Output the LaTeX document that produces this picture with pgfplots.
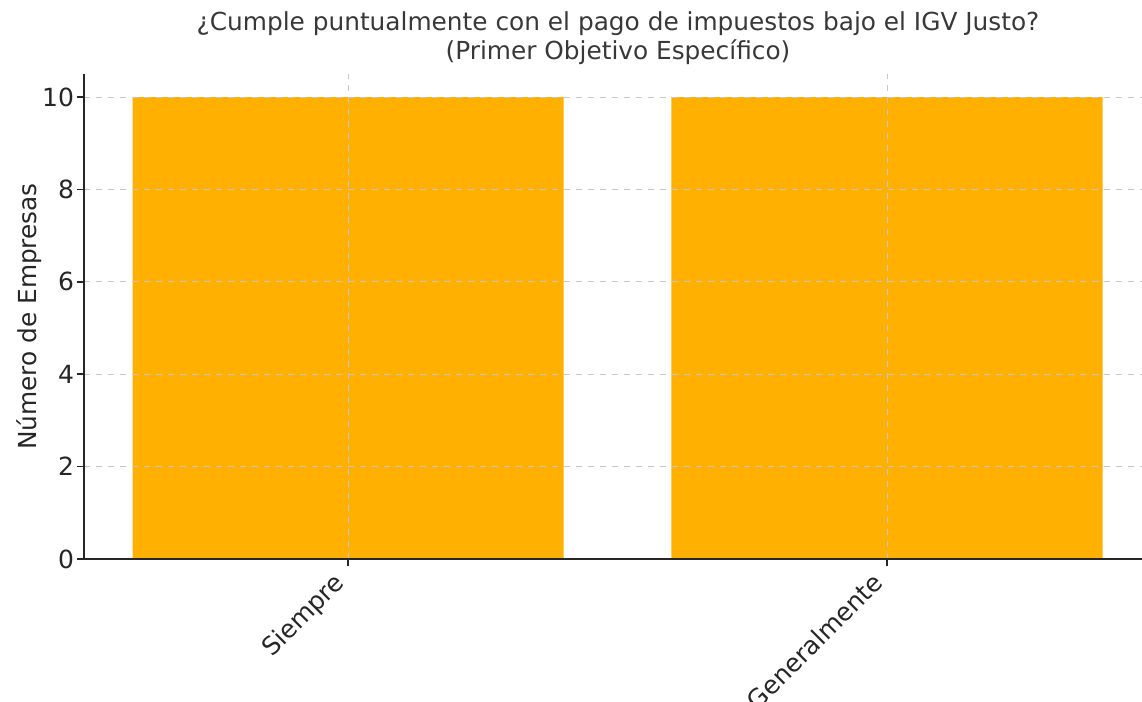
\documentclass[border=0pt]{standalone}
\usepackage{pgfplots}
\pgfplotsset{compat=1.18}
\usepackage{fontspec}
\setmainfont{DejaVu Sans}
\definecolor{barOrange}{HTML}{FFB000}
\definecolor{txt}{HTML}{262626}
\begin{document}
\begin{tikzpicture}
\begin{axis}[
  scale only axis,
  width=529pt, height=242.5pt,
  xmin=-0.49, xmax=1.473,
  ymin=0, ymax=10.5,
  axis x line*=bottom, axis y line*=left,
  axis line style={line width=0.9pt, color=txt},
  xtick={0,1},
  xticklabels={Siempre,Generalmente},
  x tick label style={xshift=-8pt, yshift=2.5pt, rotate=45, anchor=north east, font=\fontsize{12.5}{15}\selectfont, text=txt},
  ytick={0,2,4,6,8,10},
  y tick label style={xshift=2pt, font=\fontsize{12.5}{15}\selectfont, text=txt},
  /pgf/number format/assume math mode=true,
  tick align=outside,
  major tick length=3.5pt,
  tick style={line width=0.8pt, color=txt},
  xmajorgrids, ymajorgrids,
  major grid style={dashed, color=black!22, line width=0.5pt},
  axis on top,
  ylabel={Número de Empresas},
  ylabel style={font=\fontsize{12.4}{14.6}\selectfont, text=txt, yshift=-6.5pt},
  title={¿Cumple puntualmente con el pago de impuestos bajo el IGV Justo?\\(Primer Objetivo Específico)},
  title style={font=\fontsize{12.4}{14.6}\selectfont, text=black!78, align=center, yshift=-5pt, xshift=2.5pt},
]
\addplot[ybar, bar width=0.8, fill=barOrange, draw=none] coordinates {(0,10) (1,10)};
\end{axis}
\pgfresetboundingbox
\path[use as bounding box] (-42pt,-71.5pt) rectangle (529pt,279.5pt);
\end{tikzpicture}
\end{document}
